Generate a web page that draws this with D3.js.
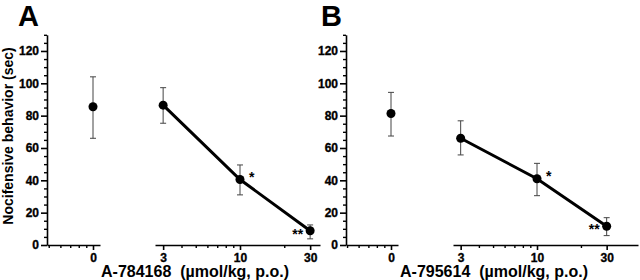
<!DOCTYPE html>
<html>
<head>
<meta charset="utf-8">
<script src="https://cdn.jsdelivr.net/npm/d3@7"></script>
<style>
  body { margin: 0; background: #fff; }
  svg { display: block; font-family: 'Liberation Sans', Arial, sans-serif; font-weight: bold; }
</style>
</head>
<body>
<div id="chart"></div>
<script>
// doses; 0 is drawn at the log position of 1 (broken axis)
const doseLabels = ['0', '3', '10', '30']
const dosePos = [1, 3, 10, 30]
const compounds = ['A-784168', 'A-795614']
const panelLetters = ['A', 'B']

const meansA = [85.5, 86.5, 40.5, 8.8]
const lowA = [66, 75.3, 31, 3.8]
const highA = [104, 97.3, 49.5, 12.4]
const starsA = ['', '', '*', '**']

const meansB = [81.3, 66, 41, 11.6]
const lowB = [67.4, 55.7, 30.5, 5.8]
const highB = [94.4, 76.8, 50.5, 16.9]
const starsB = ['', '', '*', '**']

const yMajor = [0, 20, 40, 60, 80, 100, 120]
const yMinor = d3.range(5, 131, 5).filter((v) => v % 20 !== 0)
const xMajor = [1, 3, 10, 30]
const xMinor = [0.5, 0.6, 0.7, 0.8, 0.9, 4, 5, 6, 7, 8, 9, 20]

const width = 640
const height = 280

const svg = d3
  .select('#chart')
  .append('svg')
  .attr('width', width)
  .attr('height', height)

const yScale = d3.scaleLinear().domain([0, 130]).range([245, 34.8])

const panels = [
  {
    letter: panelLetters[0], title: compounds[0],
    means: meansA, low: lowA, high: highA, stars: starsA,
    axisX: 47, x: [93, 240], segs: [[47, 100], [155, 320]], letterX: 18
  },
  {
    letter: panelLetters[1], title: compounds[1],
    means: meansB, low: lowB, high: highB, stars: starsB,
    axisX: 346, x: [391, 537], segs: [[346, 398], [453, 638]], letterX: 321
  }
]

const boldText = (a, size) =>
  a.selectAll('text')
    .attr('font-size', size)
    .attr('fill', '#000')
    .attr('stroke', '#000')
    .attr('stroke-width', 0.35)

panels.forEach((p) => {
  const xScale = d3.scaleLog().domain([1, 10]).range(p.x)
  const g = svg.append('g')

  // y axis
  const yAxis = g.append('g').attr('transform', `translate(${p.axisX},0)`)
  yAxis
    .call(d3.axisLeft(yScale).tickValues(yMajor).tickSize(6).tickSizeOuter(0).tickPadding(2))
    .call((a) => boldText(a, 12))
    .call((a) => a.selectAll('line, path').attr('stroke', '#000').attr('stroke-width', 1.6))
  yAxis
    .append('g')
    .call(d3.axisLeft(yScale).tickValues(yMinor).tickSize(3).tickFormat(''))
    .call((a) => a.select('.domain').remove())
    .call((a) => a.selectAll('line').attr('stroke', '#000').attr('stroke-width', 1.4))

  // broken x axis
  p.segs.forEach(([x0, x1]) => {
    const lo = xScale.invert(x0)
    const hi = xScale.invert(x1)
    const seg = xScale.copy().domain([lo, hi]).range([x0, x1])
    const inSeg = (v) => v >= lo && v <= hi
    const ax = g.append('g').attr('transform', `translate(0,${yScale(0)})`)
    ax
      .call(
        d3.axisBottom(seg)
          .tickValues(xMajor.filter(inSeg))
          .tickFormat((d) => doseLabels[dosePos.indexOf(d)])
          .tickSize(5)
          .tickSizeOuter(0)
          .tickPadding(3)
      )
      .call((a) => boldText(a, 12))
      .call((a) => a.selectAll('line, path').attr('stroke', '#000').attr('stroke-width', 1.6))
    ax
      .append('g')
      .call(d3.axisBottom(seg).tickValues(xMinor.filter(inSeg)).tickSize(3).tickFormat(''))
      .call((a) => a.select('.domain').remove())
      .call((a) => a.selectAll('line').attr('stroke', '#000').attr('stroke-width', 1.4))
  })

  // error bars
  const pts = dosePos.map((d, i) => ({
    x: d, m: p.means[i], lo: p.low[i], hi: p.high[i], star: p.stars[i]
  }))
  const eb = g.append('g').attr('stroke', '#444').attr('stroke-width', 1)
  eb.selectAll('.v')
    .data(pts)
    .join('line')
    .attr('x1', (d) => xScale(d.x))
    .attr('x2', (d) => xScale(d.x))
    .attr('y1', (d) => yScale(d.lo))
    .attr('y2', (d) => yScale(d.hi))
  eb.selectAll('.t')
    .data(pts.flatMap((d) => [{ x: d.x, v: d.lo }, { x: d.x, v: d.hi }]))
    .join('line')
    .attr('x1', (d) => xScale(d.x) - 3)
    .attr('x2', (d) => xScale(d.x) + 3)
    .attr('y1', (d) => yScale(d.v))
    .attr('y2', (d) => yScale(d.v))

  // line through the dosed groups
  const line = d3.line().x((d) => xScale(d.x)).y((d) => yScale(d.m))
  g.append('path')
    .datum(pts.slice(1))
    .attr('d', line)
    .attr('fill', 'none')
    .attr('stroke', '#000')
    .attr('stroke-width', 3)

  g.selectAll('circle')
    .data(pts)
    .join('circle')
    .attr('cx', (d) => xScale(d.x))
    .attr('cy', (d) => yScale(d.m))
    .attr('r', 4.5)
    .attr('fill', '#000')

  // significance stars
  g.selectAll('.star')
    .data(pts.filter((d) => d.star))
    .join('text')
    .attr('x', (d) => (d.star === '*' ? xScale(d.x) + 9 : xScale(d.x) - 7))
    .attr('y', (d) => yScale(d.m) + (d.star === '*' ? 2 : 8))
    .attr('text-anchor', (d) => (d.star === '*' ? 'start' : 'end'))
    .attr('font-size', 14)
    .text((d) => d.star)

  // panel letter
  g.append('text')
    .attr('x', p.letterX)
    .attr('y', 26)
    .attr('font-size', 29)
    .text(p.letter)

  // x title
  g.append('text')
    .attr('x', p.axisX + 148)
    .attr('y', 277)
    .attr('text-anchor', 'middle')
    .attr('font-size', 16)
    .style('white-space', 'pre')
    .text(`${p.title}  (µmol/kg, p.o.)`)
})

svg.append('text')
  .attr('transform', `translate(13,${(50 + 222) / 2}) rotate(-90)`)
  .attr('text-anchor', 'middle')
  .attr('font-size', 14)
  .text('Nocifensive behavior (sec)')
</script>
</body>
</html>
